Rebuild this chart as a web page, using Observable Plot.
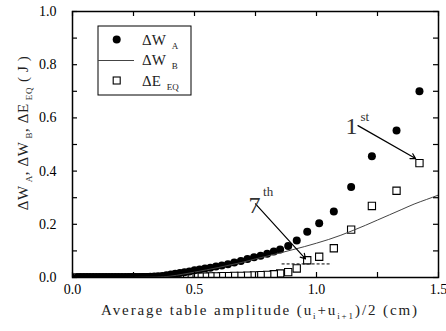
<!DOCTYPE html>
<html><head><meta charset="utf-8">
<script src="https://cdn.jsdelivr.net/npm/d3@7"></script>
<script src="https://cdn.jsdelivr.net/npm/@observablehq/plot@0.6"></script>
<style>
body{margin:0;background:#fff;}
#chart svg, #chart svg text{font-family:"Liberation Serif","Times New Roman","DejaVu Serif",serif !important;}
</style>
</head><body>
<div id="chart"></div>
<script>
// Cycle amplitudes (u_i+u_i+1)/2 in cm
const amp = [1.422,1.328,1.227,1.142,1.071,1.011,0.962,0.919,0.884,0.851,0.825,0.798,0.771,0.744,0.717,0.690,0.663,0.637,0.612,0.588,0.565,0.543,0.521,0.500,0.479,0.459,0.440,0.421,0.403,0.385,0.368,0.351,0.335,0.319,0.303,0.288,0.273,0.258,0.244,0.230,0.216,0.202,0.188,0.175,0.162,0.149,0.136,0.123,0.110,0.097,0.084,0.071,0.058,0.045,0.032,0.019];
// ΔW_A (filled circles)
const dWA = [0.700,0.553,0.456,0.340,0.248,0.204,0.172,0.139,0.118,0.105,0.098,0.089,0.082,0.076,0.070,0.062,0.056,0.050,0.045,0.041,0.037,0.034,0.030,0.027,0.023,0.020,0.017,0.014,0.011,0.008,0.006,0.005,0.004,0.003,0.002,0.002,0.001,0.001,0.001,0.001,0,0,0,0,0,0,0,0,0,0,0,0,0,0,0,0];
// ΔE_EQ (open squares)
const dEEQ = [0.430,0.326,0.269,0.180,0.110,0.078,0.065,0.034,0.020,0.015,0.012,0.010,0.009,0.008,0.007,0.006,0.006,0.005,0.005,0.004,0.004,0.003,0.003,0.003,0.002,0.002,0.002,0.002,0.001,0.001,0.001,0.001,0.001,0.001,0,0,0,0,0,0,0,0,0,0,0,0,0,0,0,0,0,0,0,0,0,0];
// ΔW_B (solid curve)
const curveX = [0,0.1,0.2,0.3,0.35,0.4,0.45,0.5,0.55,0.6,0.65,0.7,0.75,0.8,0.85,0.9,0.95,1.0,1.05,1.1,1.15,1.2,1.25,1.3,1.35,1.4,1.45,1.5];
const curveY = [0,0,0,0.001,0.002,0.005,0.012,0.020,0.029,0.038,0.048,0.058,0.070,0.081,0.092,0.104,0.116,0.129,0.143,0.159,0.177,0.196,0.216,0.236,0.256,0.276,0.293,0.310];
// annotations
const arrowFrom = [[0.750,0.277],[1.170,0.571]];
const arrowTo   = [[0.955,0.070],[1.406,0.447]];
const dashX = [0.859,1.064], dashY = 0.051;
const xMajor = [0,0.5,1.0,1.5], xMinor = [0.25,0.75,1.25];
const yMajor = [0,0.2,0.4,0.6,0.8,1.0], yMinor = [0.1,0.3,0.5,0.7,0.9];

const pts = amp.map((a,i)=>({x:a, wa:dWA[i], eq:dEEQ[i]}));
const curve = curveX.map((x,i)=>({x, y:curveY[i]}));
const arrows = arrowFrom.map((f,i)=>({x1:f[0],y1:f[1],x2:arrowTo[i][0],y2:arrowTo[i][1]}));

const W=446,H=331, mL=72,mR=8,mT=11,mB=54;
const pw=W-mL-mR, ph=H-mT-mB, tk=5;
const F = '"Liberation Serif","Times New Roman","DejaVu Serif",serif';

const svg = Plot.plot({
  width:W, height:H, marginLeft:mL, marginRight:mR, marginTop:mT, marginBottom:mB,
  x:{domain:[0,1.5]}, y:{domain:[0,1]},
  style:{fontFamily:F, fontSize:"13px", background:"white", color:"black", overflow:"visible"},
  marks:[
    Plot.ruleY([dashY],{x1:dashX[0],x2:dashX[1],stroke:"black",strokeWidth:1,strokeDasharray:"3,2"}),
    Plot.dot(pts,{x:"x",y:"eq",symbol:"square",r:4.1,fill:"white",stroke:"black",strokeWidth:1.1,clip:true}),
    Plot.dot(pts,{x:"x",y:"wa",r:4,fill:"black",stroke:"none",clip:true}),
    Plot.line(curve,{x:"x",y:"y",stroke:"#444",strokeWidth:1,curve:"natural",clip:true}),
    Plot.arrow(arrows,{x1:"x1",y1:"y1",x2:"x2",y2:"y2",stroke:"black",strokeWidth:1.2,headLength:7}),
    Plot.text(["7"],{x:0.770,y:0.241,text:d=>d,textAnchor:"end",lineAnchor:"bottom",fontSize:24,fill:"#333"}),
    Plot.text(["th"],{x:0.781,y:0.305,text:d=>d,textAnchor:"start",lineAnchor:"bottom",fontSize:13,fill:"#333"}),
    Plot.text(["1"],{x:1.168,y:0.541,text:d=>d,textAnchor:"end",lineAnchor:"bottom",fontSize:24,fill:"#333"}),
    Plot.text(["st"],{x:1.180,y:0.590,text:d=>d,textAnchor:"start",lineAnchor:"bottom",fontSize:13,fill:"#333"}),
    Plot.tickX(xMajor.concat(xMinor),{x:d=>d,insetTop:ph-tk,stroke:"black",strokeWidth:1.2}),
    Plot.tickX(xMajor.concat(xMinor),{x:d=>d,insetBottom:ph-tk,stroke:"black",strokeWidth:1.2}),
    Plot.tickY(yMajor.concat(yMinor),{y:d=>d,insetRight:pw-tk,stroke:"black",strokeWidth:1.2}),
    Plot.tickY(yMajor.concat(yMinor),{y:d=>d,insetLeft:pw-tk,stroke:"black",strokeWidth:1.2}),
    Plot.axisX(xMajor,{tickSize:0,tickPadding:7,tickFormat:d=>d.toFixed(1),label:null,fontSize:14}),
    Plot.axisY(yMajor,{tickSize:0,tickPadding:16,tickFormat:d=>d.toFixed(1),label:null,fontSize:14}),
    Plot.frame({stroke:"black",strokeWidth:1.5})
  ]
});
document.getElementById("chart").appendChild(svg);

const s = d3.select(svg);
// x title
const xt = s.append("text").attr("x",260).attr("y",315).attr("text-anchor","middle")
  .attr("font-family",F).attr("font-size",15).attr("letter-spacing",1.9).attr("fill","#222");
xt.append("tspan").text("Average table amplitude (u");
xt.append("tspan").attr("font-size",9).attr("dy",4).text("i");
xt.append("tspan").attr("dy",-4).text("+u");
xt.append("tspan").attr("font-size",9).attr("dy",4).text("i+1");
xt.append("tspan").attr("dy",-4).text(")/2 (cm)");
// y title
const yt = s.append("text").attr("transform","translate(28,133) rotate(-90)").attr("text-anchor","middle")
  .attr("font-family",F).attr("font-size",15).attr("letter-spacing",0.6).attr("fill","#222");
const sub=(t,txt)=>{t.append("tspan").attr("font-size",9).attr("dy",4).attr("dx",3).text(txt);};
yt.append("tspan").text("ΔW");
sub(yt,"A");
yt.append("tspan").attr("dy",-4).text(", ΔW");
sub(yt,"B");
yt.append("tspan").attr("dy",-4).text(", ΔE");
sub(yt,"EQ");
yt.append("tspan").attr("dy",-4).attr("dx",5).text("( J )");
// legend
const lg = s.append("g").attr("text-anchor","start");
lg.append("rect").attr("x",98).attr("y",26).attr("width",93).attr("height",69).attr("fill","white").attr("stroke","black").attr("stroke-width",1);
lg.append("circle").attr("cx",116.7).attr("cy",39.5).attr("r",4).attr("fill","black");
lg.append("line").attr("x1",98).attr("x2",134).attr("y1",60.5).attr("y2",60.5).attr("stroke","#444");
lg.append("rect").attr("x",113.2).attr("y",77).attr("width",7).attr("height",7).attr("fill","white").attr("stroke","black").attr("stroke-width",1.1);
const entries=[["ΔW","A",45],["ΔW","B",65],["ΔE","EQ",86]];
entries.forEach(([m,sb,yb])=>{
  const t=lg.append("text").attr("x",142).attr("y",yb).attr("text-anchor","start").attr("font-family",F).attr("font-size",15).attr("fill","#222");
  t.append("tspan").text(m);
  t.append("tspan").attr("font-size",9).attr("dx",6).attr("dy",4).text(sb);
});
</script>
</body></html>
